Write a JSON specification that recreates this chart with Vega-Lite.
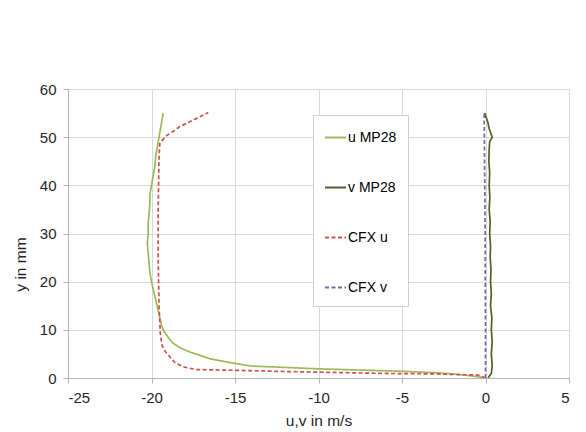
{
  "$schema": "https://vega.github.io/schema/vega-lite/v6.json",
  "width": 501,
  "height": 289,
  "autosize": {"type": "none"},
  "padding": {"left": 68, "top": 89, "right": 17, "bottom": 54},
  "background": "white",
  "config": {
    "font": "Liberation Sans",
    "view": {"stroke": "#c4c4c4", "strokeWidth": 1},
    "axis": {
      "gridColor": "#d9d9d9",
      "gridWidth": 1,
      "domainColor": "#b4b4b4",
      "tickColor": "#b4b4b4",
      "tickSize": 5,
      "labelFont": "Liberation Sans",
      "labelFontSize": 15,
      "labelColor": "#262626",
      "titleFont": "Liberation Sans",
      "titleFontSize": 15.5,
      "titleFontWeight": "normal",
      "titleColor": "#262626",
      "labelPadding": 7,
      "labelExpr": "replace(datum.label, '−', '-')"
    }
  },
  "data": {
    "values": [
      {"s": "u MP28", "y": 0.0, "x": 0.0},
      {"s": "u MP28", "y": 0.2, "x": -0.3},
      {"s": "u MP28", "y": 0.5, "x": -1.0},
      {"s": "u MP28", "y": 0.85, "x": -2.0},
      {"s": "u MP28", "y": 1.1, "x": -3.0},
      {"s": "u MP28", "y": 1.25, "x": -4.0},
      {"s": "u MP28", "y": 1.4, "x": -5.0},
      {"s": "u MP28", "y": 1.65, "x": -7.5},
      {"s": "u MP28", "y": 1.9, "x": -10.0},
      {"s": "u MP28", "y": 2.2, "x": -12.0},
      {"s": "u MP28", "y": 2.5, "x": -14.1},
      {"s": "u MP28", "y": 3.2, "x": -15.3},
      {"s": "u MP28", "y": 4.0, "x": -16.5},
      {"s": "u MP28", "y": 4.7, "x": -17.1},
      {"s": "u MP28", "y": 5.4, "x": -17.7},
      {"s": "u MP28", "y": 6.3, "x": -18.3},
      {"s": "u MP28", "y": 7.2, "x": -18.7},
      {"s": "u MP28", "y": 8.2, "x": -18.95},
      {"s": "u MP28", "y": 9.2, "x": -19.15},
      {"s": "u MP28", "y": 10.0, "x": -19.3},
      {"s": "u MP28", "y": 11.0, "x": -19.4},
      {"s": "u MP28", "y": 12.5, "x": -19.5},
      {"s": "u MP28", "y": 14.0, "x": -19.6},
      {"s": "u MP28", "y": 15.5, "x": -19.7},
      {"s": "u MP28", "y": 17.0, "x": -19.8},
      {"s": "u MP28", "y": 18.5, "x": -19.9},
      {"s": "u MP28", "y": 20.0, "x": -20.0},
      {"s": "u MP28", "y": 22.0, "x": -20.1},
      {"s": "u MP28", "y": 24.0, "x": -20.15},
      {"s": "u MP28", "y": 26.0, "x": -20.2},
      {"s": "u MP28", "y": 28.0, "x": -20.25},
      {"s": "u MP28", "y": 30.0, "x": -20.2},
      {"s": "u MP28", "y": 32.0, "x": -20.2},
      {"s": "u MP28", "y": 34.0, "x": -20.15},
      {"s": "u MP28", "y": 36.0, "x": -20.1},
      {"s": "u MP28", "y": 38.0, "x": -20.1},
      {"s": "u MP28", "y": 40.0, "x": -20.0},
      {"s": "u MP28", "y": 42.0, "x": -19.9},
      {"s": "u MP28", "y": 44.0, "x": -19.8},
      {"s": "u MP28", "y": 46.0, "x": -19.75},
      {"s": "u MP28", "y": 48.0, "x": -19.65},
      {"s": "u MP28", "y": 50.0, "x": -19.55},
      {"s": "u MP28", "y": 51.0, "x": -19.5},
      {"s": "u MP28", "y": 52.0, "x": -19.45},
      {"s": "u MP28", "y": 53.0, "x": -19.4},
      {"s": "u MP28", "y": 54.0, "x": -19.35},
      {"s": "u MP28", "y": 55.0, "x": -19.3},
      {"s": "v MP28", "y": 0.0, "x": 0.15},
      {"s": "v MP28", "y": 1.0, "x": 0.35},
      {"s": "v MP28", "y": 2.5, "x": 0.4},
      {"s": "v MP28", "y": 5.0, "x": 0.35},
      {"s": "v MP28", "y": 7.5, "x": 0.4},
      {"s": "v MP28", "y": 10.0, "x": 0.35},
      {"s": "v MP28", "y": 12.5, "x": 0.38},
      {"s": "v MP28", "y": 15.0, "x": 0.3},
      {"s": "v MP28", "y": 17.5, "x": 0.35},
      {"s": "v MP28", "y": 20.0, "x": 0.3},
      {"s": "v MP28", "y": 22.5, "x": 0.33},
      {"s": "v MP28", "y": 25.0, "x": 0.28},
      {"s": "v MP28", "y": 27.5, "x": 0.3},
      {"s": "v MP28", "y": 30.0, "x": 0.25},
      {"s": "v MP28", "y": 32.5, "x": 0.28},
      {"s": "v MP28", "y": 35.0, "x": 0.22},
      {"s": "v MP28", "y": 37.5, "x": 0.26},
      {"s": "v MP28", "y": 40.0, "x": 0.22},
      {"s": "v MP28", "y": 42.5, "x": 0.25},
      {"s": "v MP28", "y": 45.0, "x": 0.2},
      {"s": "v MP28", "y": 47.5, "x": 0.22},
      {"s": "v MP28", "y": 49.0, "x": 0.25},
      {"s": "v MP28", "y": 50.0, "x": 0.4},
      {"s": "v MP28", "y": 51.0, "x": 0.3},
      {"s": "v MP28", "y": 52.0, "x": 0.2},
      {"s": "v MP28", "y": 53.0, "x": 0.15},
      {"s": "v MP28", "y": 54.0, "x": 0.05},
      {"s": "v MP28", "y": 55.0, "x": -0.05},
      {"s": "CFX u", "y": 0.0, "x": 0.0},
      {"s": "CFX u", "y": 0.6, "x": -0.4},
      {"s": "CFX u", "y": 0.85, "x": -3.0},
      {"s": "CFX u", "y": 0.95, "x": -6.0},
      {"s": "CFX u", "y": 1.15, "x": -9.0},
      {"s": "CFX u", "y": 1.35, "x": -12.0},
      {"s": "CFX u", "y": 1.6, "x": -15.0},
      {"s": "CFX u", "y": 1.75, "x": -17.3},
      {"s": "CFX u", "y": 2.3, "x": -18.1},
      {"s": "CFX u", "y": 3.2, "x": -18.6},
      {"s": "CFX u", "y": 4.4, "x": -18.9},
      {"s": "CFX u", "y": 5.6, "x": -19.2},
      {"s": "CFX u", "y": 6.8, "x": -19.37},
      {"s": "CFX u", "y": 9.2, "x": -19.47},
      {"s": "CFX u", "y": 15.0, "x": -19.55},
      {"s": "CFX u", "y": 25.0, "x": -19.6},
      {"s": "CFX u", "y": 35.0, "x": -19.6},
      {"s": "CFX u", "y": 45.9, "x": -19.55},
      {"s": "CFX u", "y": 48.7, "x": -19.5},
      {"s": "CFX u", "y": 50.2, "x": -19.15},
      {"s": "CFX u", "y": 51.2, "x": -18.7},
      {"s": "CFX u", "y": 52.2, "x": -18.3},
      {"s": "CFX u", "y": 53.9, "x": -17.3},
      {"s": "CFX u", "y": 55.1, "x": -16.6},
      {"s": "CFX v", "y": 0.0, "x": 0.0},
      {"s": "CFX v", "y": 10.0, "x": 0.0},
      {"s": "CFX v", "y": 30.0, "x": -0.02},
      {"s": "CFX v", "y": 55.0, "x": -0.08}
    ]
  },
  "mark": {"type": "line", "strokeWidth": 1.7, "clip": true},
  "encoding": {
    "x": {
      "field": "x",
      "type": "quantitative",
      "scale": {"domain": [-25, 5], "nice": false, "zero": false},
      "axis": {"values": [-25, -20, -15, -10, -5, 0, 5], "title": "u,v in m/s", "titlePadding": 8}
    },
    "y": {
      "field": "y",
      "type": "quantitative",
      "scale": {"domain": [0, 60], "nice": false},
      "axis": {"values": [0, 10, 20, 30, 40, 50, 60], "title": "y in mm", "titleX": -40, "titleY": 175}
    },
    "order": {"field": "y", "type": "quantitative"},
    "color": {
      "field": "s",
      "type": "nominal",
      "scale": {"domain": ["u MP28", "v MP28", "CFX u", "CFX v"], "range": ["#9BBB59", "#4F6228", "#D0504D", "#8064A2"]},
      "legend": {
        "title": null,
        "orient": "none",
        "legendX": 245,
        "legendY": 26,
        "padding": 11,
        "rowPadding": 31,
        "fillColor": "white",
        "strokeColor": "#d0d0d0",
        "symbolType": "stroke",
        "symbolSize": 441,
        "symbolStrokeWidth": 2,
        "labelFont": "Liberation Sans",
        "labelFontSize": 14,
        "labelColor": "#000000",
        "labelOffset": 1
      }
    },
    "strokeDash": {
      "field": "s",
      "type": "nominal",
      "scale": {"domain": ["u MP28", "v MP28", "CFX u", "CFX v"], "range": [[1, 0], [1, 0], [4, 2.5], [4, 2.5]]},
      "legend": null
    }
  }
}
